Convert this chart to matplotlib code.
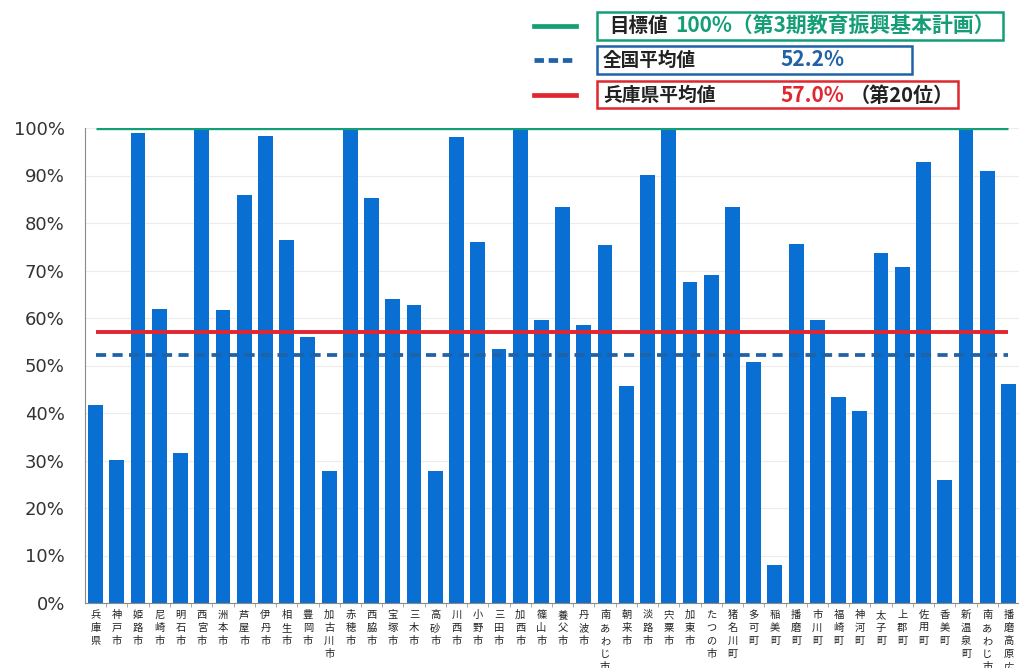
import numpy as np
import matplotlib
matplotlib.use("Agg")
import matplotlib.pyplot as plt
from matplotlib.lines import Line2D
from matplotlib.patches import Rectangle

# 兵庫県内の市町ごとの達成率（%）
names = ["兵庫県", "神戸市", "姫路市", "尼崎市", "明石市", "西宮市", "洲本市", "芦屋市",
         "伊丹市", "相生市", "豊岡市", "加古川市", "赤穂市", "西脇市", "宝塚市", "三木市",
         "高砂市", "川西市", "小野市", "三田市", "加西市", "篠山市", "養父市", "丹波市",
         "南あわじ市", "朝来市", "淡路市", "宍粟市", "加東市", "たつの市", "猪名川町", "多可町",
         "稲美町", "播磨町", "市川町", "福崎町", "神河町", "太子町", "上郡町", "佐用町",
         "香美町", "新温泉町", "南あわじ市・洲本市小中学校組合", "播磨高原広域事務組合"]
values = [41.6, 30.1, 98.9, 62.0, 31.6, 100.0, 61.7, 86.0,
          98.3, 76.4, 55.9, 27.8, 100.0, 85.2, 63.9, 62.7,
          27.8, 98.2, 75.9, 53.4, 100.0, 59.6, 83.3, 58.5,
          75.3, 45.7, 90.1, 100.0, 67.6, 69.0, 83.4, 50.7,
          8.0, 75.5, 59.5, 43.4, 40.4, 73.6, 70.8, 92.9,
          25.8, 100.0, 90.9, 46.2]
target = 100.0
national_avg = 52.2
pref_avg = 57.0
ytick_vals = [0, 10, 20, 30, 40, 50, 60, 70, 80, 90, 100]

JP = ["Noto Sans CJK JP", "DejaVu Sans"]
plt.rcParams['font.family'] = ['DejaVu Sans']

W, H = 1019, 668
fig = plt.figure(figsize=(W / 100, H / 100), dpi=100)
ax = fig.add_axes([85 / W, 1 - 603 / H, 1 - 85 / W, (603 - 128) / H])

x = np.arange(len(names))
ax.bar(x, values, width=0.7, color="#0a6fd2", zorder=2)

# 目標値・平均値の線
ax.plot(x, [target] * len(x), color="#139e76", lw=2.4, zorder=3, solid_capstyle="butt")
ax.plot(x, [pref_avg] * len(x), color="#e0262f", lw=2.8, zorder=3, solid_capstyle="butt")
ax.plot(x, [national_avg] * len(x), color="#1f62a8", lw=2.7, zorder=3,
        linestyle=(0, (2.7, 1.7)))

ax.set_xlim(-0.5, 43.45)
ax.set_ylim(0, 100)
ax.set_yticks(ytick_vals)
ax.set_yticklabels([f"{v}%" for v in ytick_vals], fontsize=13, color="#333333")
ax.tick_params(axis="y", length=0, pad=14.5)
ax.yaxis.grid(True, color="#ececec", lw=0.8, zorder=0)

ax.set_xticks(x)
ax.set_xticklabels(["\n".join(n) for n in names], family=JP, fontsize=7.4,
                   linespacing=1.38, va="top", color="#222222")
ax.tick_params(axis="x", length=0, pad=5)
ax.set_xticks(np.arange(len(names)) + 0.5, minor=True)
ax.tick_params(axis="x", which="minor", length=3, color="#9a9a9a")

for s in ["top", "right"]:
    ax.spines[s].set_visible(False)
ax.spines["left"].set_color("#8a8a8a")
ax.spines["bottom"].set_color("#8a8a8a")
ax.spines["left"].set_linewidth(0.8)
ax.spines["bottom"].set_linewidth(0.8)


def fx(px):
    return px / W


def fy(py):
    return 1 - py / H


# 凡例（図の上部）
rows = [
    (26, "#139e76", "-", 597, 1003, 12, 40),
    (60, "#1f62a8", (0, (2.0, 1.0)), 597, 912, 46, 74),
    (95, "#e0262f", "-", 597, 958, 81, 108),
]
for yc, col, ls, x0, x1, y0, y1 in rows:
    fig.add_artist(Line2D([fx(534), fx(576)], [fy(yc), fy(yc)], color=col, lw=3.4,
                          linestyle=ls, transform=fig.transFigure))
    fig.add_artist(Rectangle((fx(x0), fy(y1)), fx(x1) - fx(x0), fy(y0) - fy(y1),
                             fill=False, edgecolor=col, lw=1.8, transform=fig.transFigure))

fig.text(fx(609), fy(26), "目標値", family=JP, fontsize=14, fontweight="bold",
         color="#222222", va="center")
fig.text(fx(675), fy(26), "100%（第3期教育振興基本計画）", family=JP, fontsize=15,
         fontweight="bold", color="#139e76", va="center")
fig.text(fx(603), fy(60), "全国平均値", family=JP, fontsize=13.4, fontweight="bold",
         color="#222222", va="center")
fig.text(fx(780), fy(60), "52.2%", family=JP, fontsize=15, fontweight="bold",
         color="#1f62a8", va="center")
fig.text(fx(603), fy(95), "兵庫県平均値", family=JP, fontsize=13.5, fontweight="bold",
         color="#222222", va="center")
fig.text(fx(780), fy(95), "57.0%", family=JP, fontsize=15, fontweight="bold",
         color="#e0262f", va="center")
fig.text(fx(850), fy(95), "（第20位）", family=JP, fontsize=14.5, fontweight="bold",
         color="#222222", va="center")

fig.savefig("out.png", dpi=100)
